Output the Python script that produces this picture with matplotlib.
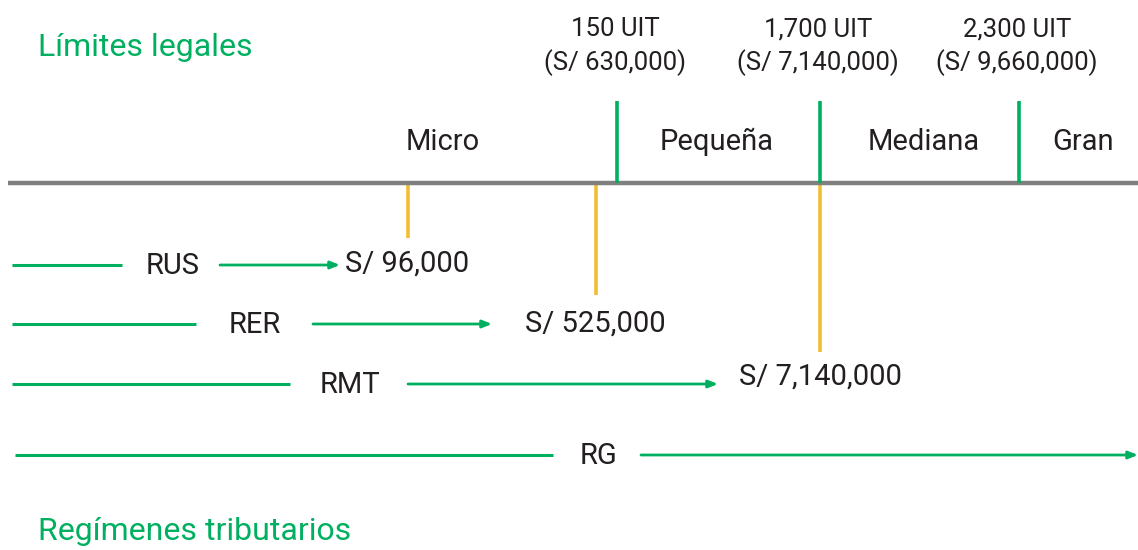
import matplotlib
matplotlib.use("Agg")
import matplotlib.pyplot as plt

# ---- data ----
company_sizes = ["Micro", "Pequeña", "Mediana", "Gran"]
thresholds_uit = [150, 1700, 2300]
thresholds_soles = [630000, 7140000, 9660000]
regimes = ["RUS", "RER", "RMT", "RG"]
regime_limits = [96000, 525000, 7140000, None]
title_top = "Límites legales"
title_bottom = "Regímenes tributarios"

# ---- layout (schematic, pixel coords) ----
W, H = 1138, 550
GREEN = "#00b060"
YELLOW = "#f2bd33"
GRAY = "#7f7f7f"
TXT = "#231f20"
FONT = "Roboto"
FS_TITLE = 23
FS_LABEL = 21
FS_TOP = 18.5

threshold_x = [617, 820, 1019]
size_label_x = [443, 717, 924, 1083]
axis_y = 183
row_y = [265, 324, 384, 455]
row_line_end = [122, 196, 290, 553]
row_label_x = [173, 255, 350, 599]
row_arrow = [(220, 340), (313, 492), (408, 718), (641, 1138)]
limit_text_x = [407, 595, 820]
limit_text_y = [264, 324, 377]
limit_marker = [(408, 238), (596, 295), (820, 352)]

fig = plt.figure(figsize=(W / 100, H / 100), dpi=100)
ax = fig.add_axes([0, 0, 1, 1])
ax.set_xlim(0, W)
ax.set_ylim(H, 0)
ax.axis("off")

# titles
ax.text(38, 47, title_top, color=GREEN, fontsize=FS_TITLE, family=FONT, va="center", ha="left")
ax.text(38, 532, title_bottom, color=GREEN, fontsize=FS_TITLE, family=FONT, va="center", ha="left")

# main axis line
ax.plot([8, W], [axis_y, axis_y], color=GRAY, lw=3.2, solid_capstyle="butt", zorder=2)

# thresholds
for x, uit, soles in zip(threshold_x, thresholds_uit, thresholds_soles):
    ax.plot([x, x], [101, axis_y], color=GREEN, lw=2.6, solid_capstyle="butt", zorder=3)
    ax.text(x - 2, 29, f"{uit:,} UIT", color=TXT, fontsize=FS_TOP, family=FONT, ha="center", va="center")
    ax.text(x - 2, 63, f"(S/ {soles:,})", color=TXT, fontsize=FS_TOP, family=FONT, ha="center", va="center")

for x, name in zip(size_label_x, company_sizes):
    ax.text(x, 142, name, color=TXT, fontsize=FS_LABEL, family=FONT, ha="center", va="center")

# regime limit markers
for (x, y2) in limit_marker:
    ax.plot([x, x], [axis_y + 2, y2], color=YELLOW, lw=2.6, solid_capstyle="butt", zorder=1)

# regimes rows
for i, name in enumerate(regimes):
    y = row_y[i]
    x0 = 15 if i == 3 else 12
    ax.plot([x0, row_line_end[i]], [y, y], color=GREEN, lw=2.2, solid_capstyle="butt")
    ax.text(row_label_x[i], y + 1, name, color=TXT, fontsize=FS_LABEL, family=FONT, ha="center", va="center")
    a0, a1 = row_arrow[i]
    ax.annotate("", xy=(a1, y), xytext=(a0, y),
                arrowprops=dict(arrowstyle="-|>,head_length=0.55,head_width=0.22",
                                color=GREEN, lw=2.0, shrinkA=0, shrinkB=0))
    if regime_limits[i] is not None:
        ax.text(limit_text_x[i], limit_text_y[i], f"S/ {regime_limits[i]:,}", color=TXT,
                fontsize=FS_LABEL, family=FONT, ha="center", va="center")

fig.savefig("out.png", dpi=100, facecolor="white")
